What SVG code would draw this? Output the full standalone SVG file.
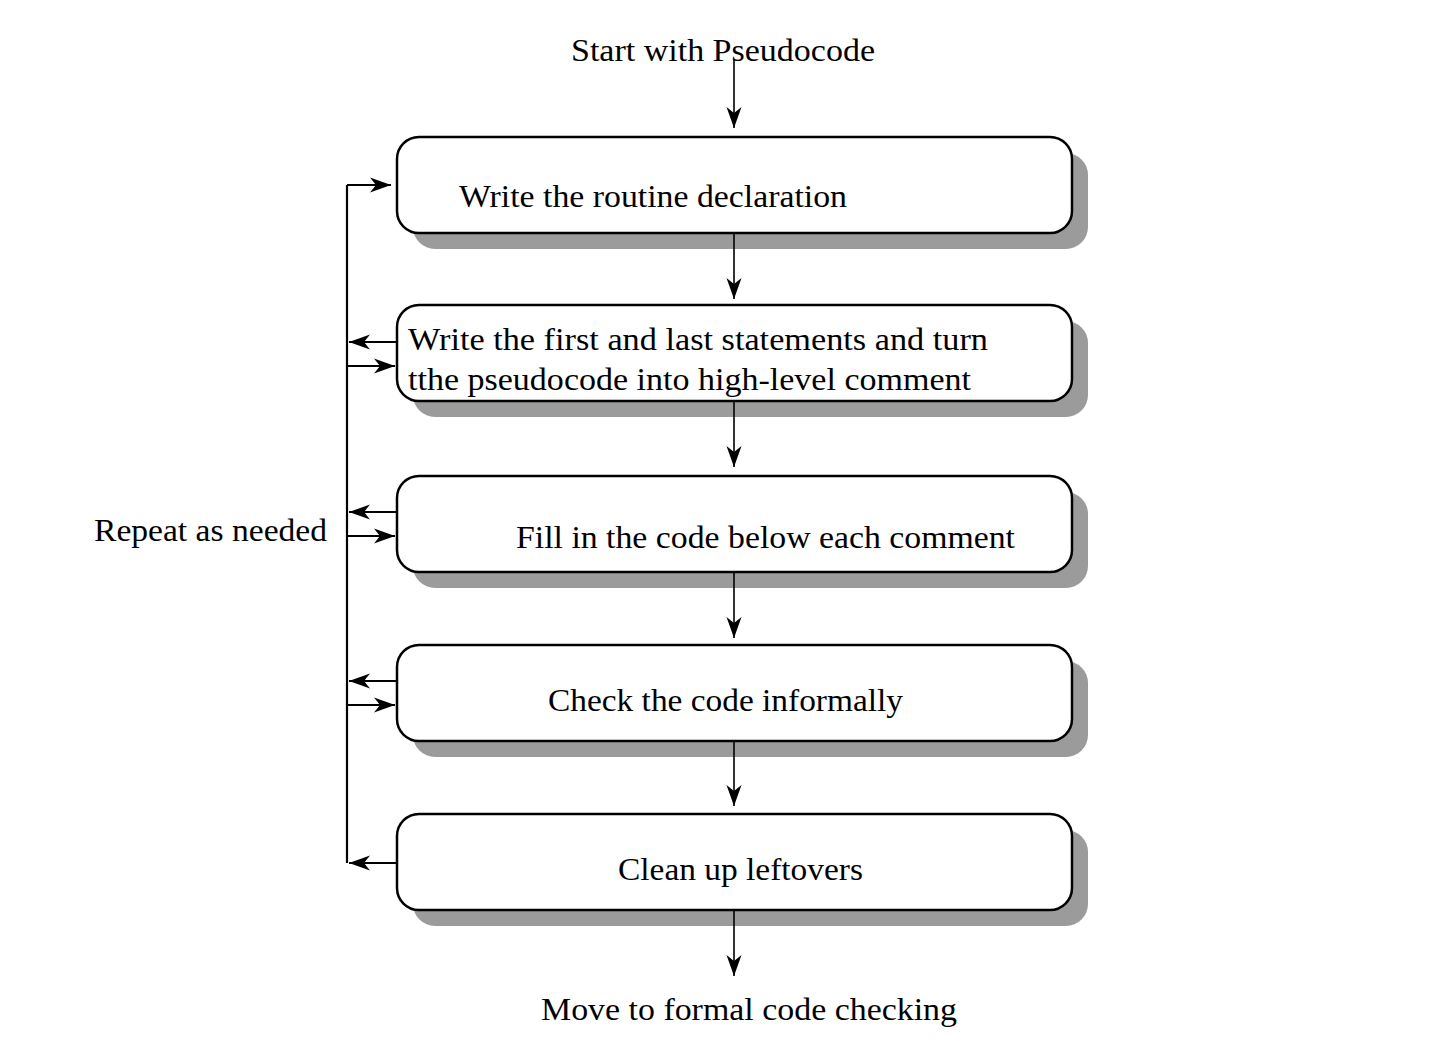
<svg xmlns="http://www.w3.org/2000/svg" width="1438" height="1056" viewBox="0 0 1438 1056">
<style>
.box{fill:#fff;stroke:#000;stroke-width:2.5}
.sh{fill:#9b9b9b}
.t{font-family:"Liberation Serif","Times New Roman",serif;font-size:31px;fill:#000}
.c{stroke:#000;stroke-width:1.6;fill:none}
.l{stroke:#000;stroke-width:2.2;fill:none}
</style>
<defs>
<marker id="ah" markerUnits="userSpaceOnUse" markerWidth="24" markerHeight="18" viewBox="0 0 24 18" refX="21" refY="9" orient="auto">
<path d="M0,1.5 L21,9 L0,16.5 L6,9 z" fill="#000"/>
</marker>
</defs>
<rect width="1438" height="1056" fill="#fff"/>
<g id="node1">
<rect class="sh" x="413" y="153" width="675" height="96" rx="22"/>
<rect class="box" x="397" y="137" width="675" height="96" rx="22"/>
<text class="t" x="459" y="207" textLength="388" lengthAdjust="spacingAndGlyphs">Write the routine declaration</text>
</g>
<g id="node2">
<rect class="sh" x="413" y="321" width="675" height="96" rx="22"/>
<rect class="box" x="397" y="305" width="675" height="96" rx="22"/>
<text class="t" x="408" y="350" textLength="580" lengthAdjust="spacingAndGlyphs">Write the first and last statements and turn</text>
<text class="t" x="408" y="390" textLength="563" lengthAdjust="spacingAndGlyphs">tthe pseudocode into high-level comment</text>
</g>
<g id="node3">
<rect class="sh" x="413" y="492" width="675" height="96" rx="22"/>
<rect class="box" x="397" y="476" width="675" height="96" rx="22"/>
<text class="t" x="516" y="548" textLength="499" lengthAdjust="spacingAndGlyphs">Fill in the code below each comment</text>
</g>
<g id="node4">
<rect class="sh" x="413" y="661" width="675" height="96" rx="22"/>
<rect class="box" x="397" y="645" width="675" height="96" rx="22"/>
<text class="t" x="548" y="711" textLength="355" lengthAdjust="spacingAndGlyphs">Check the code informally</text>
</g>
<g id="node5">
<rect class="sh" x="413" y="830" width="675" height="96" rx="22"/>
<rect class="box" x="397" y="814" width="675" height="96" rx="22"/>
<text class="t" x="618" y="880" textLength="245" lengthAdjust="spacingAndGlyphs">Clean up leftovers</text>
</g>
<g id="start"><text class="t" x="571" y="61" textLength="304" lengthAdjust="spacingAndGlyphs">Start with Pseudocode</text></g>
<g id="end"><text class="t" x="541" y="1020" textLength="416" lengthAdjust="spacingAndGlyphs">Move to formal code checking</text></g>
<g id="repeat"><text class="t" x="94" y="541" textLength="233" lengthAdjust="spacingAndGlyphs">Repeat as needed</text></g>
<g id="connectors">
<line class="c" x1="734" y1="60" x2="734" y2="128" marker-end="url(#ah)"/>
<line class="c" x1="734" y1="233" x2="734" y2="299" marker-end="url(#ah)"/>
<line class="c" x1="734" y1="401" x2="734" y2="467" marker-end="url(#ah)"/>
<line class="c" x1="734" y1="572" x2="734" y2="638" marker-end="url(#ah)"/>
<line class="c" x1="734" y1="741" x2="734" y2="806" marker-end="url(#ah)"/>
<line class="c" x1="734" y1="910" x2="734" y2="976" marker-end="url(#ah)"/>
<polyline class="l" points="347,863 347,185"/>
<line class="l" x1="347" y1="185" x2="391" y2="185" marker-end="url(#ah)"/>
<line class="l" x1="397" y1="342" x2="349" y2="342" marker-end="url(#ah)"/>
<line class="l" x1="347" y1="366" x2="395" y2="366" marker-end="url(#ah)"/>
<line class="l" x1="397" y1="512" x2="349" y2="512" marker-end="url(#ah)"/>
<line class="l" x1="347" y1="536" x2="395" y2="536" marker-end="url(#ah)"/>
<line class="l" x1="397" y1="681" x2="349" y2="681" marker-end="url(#ah)"/>
<line class="l" x1="347" y1="705" x2="395" y2="705" marker-end="url(#ah)"/>
<line class="l" x1="397" y1="863" x2="349" y2="863" marker-end="url(#ah)"/>
</g>
</svg>
